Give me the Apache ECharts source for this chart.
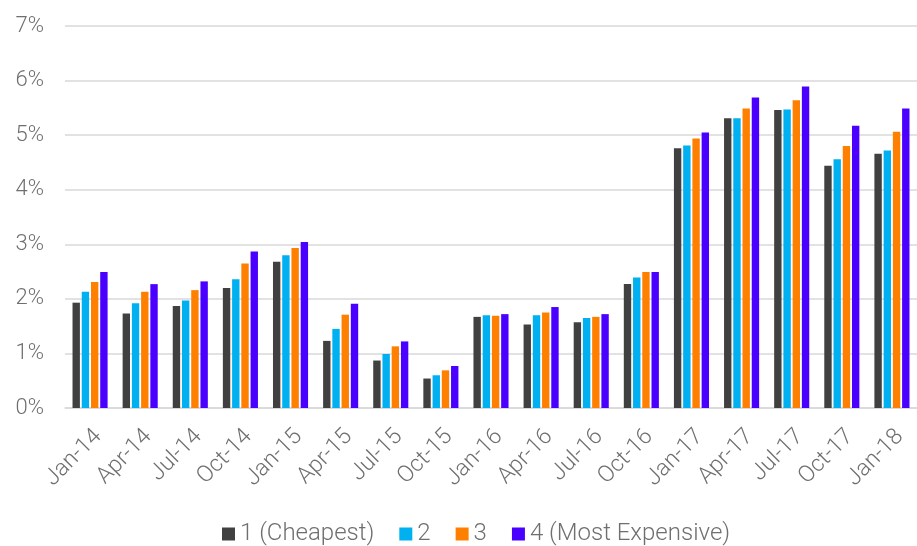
<!DOCTYPE html>
<html>
<head>
  <meta charset="UTF-8">
  <script src="https://cdn.jsdelivr.net/npm/echarts@6/dist/echarts.min.js"></script>
  <style>
    html, body { margin: 0; padding: 0; background: #fff; }
    #mychart { width: 917px; height: 546px; }
  </style>
</head>
<body>
  <div id="mychart"></div>
  <script type="text/javascript">
    // 季度 categories
    var quarters = ['Jan-14', 'Apr-14', 'Jul-14', 'Oct-14', 'Jan-15', 'Apr-15', 'Jul-15', 'Oct-15',
                    'Jan-16', 'Apr-16', 'Jul-16', 'Oct-16', 'Jan-17', 'Apr-17', 'Jul-17', 'Oct-17', 'Jan-18'];

    // values in %
    var cheapest = [1.93, 1.73, 1.87, 2.20, 2.68, 1.23, 0.87, 0.54, 1.67, 1.53, 1.57, 2.27, 4.76, 5.31, 5.46, 4.44, 4.66];
    var q2       = [2.13, 1.92, 1.97, 2.36, 2.80, 1.45, 0.99, 0.60, 1.70, 1.70, 1.65, 2.39, 4.81, 5.31, 5.47, 4.56, 4.72];
    var q3       = [2.31, 2.13, 2.16, 2.65, 2.93, 1.71, 1.13, 0.69, 1.69, 1.75, 1.67, 2.49, 4.94, 5.49, 5.64, 4.80, 5.06];
    var mostExp  = [2.49, 2.27, 2.32, 2.87, 3.04, 1.91, 1.22, 0.77, 1.72, 1.85, 1.72, 2.49, 5.05, 5.69, 5.89, 5.17, 5.49];

    var seriesNames = ['1 (Cheapest)', '2', '3', '4 (Most Expensive)'];
    var colors = ['#404040', '#00B0F0', '#FF8000', '#4A00FF'];

    var font = 'Roboto, "Noto Sans", sans-serif';
    var grey = '#6f6f6f';

    var myChart = echarts.init(document.getElementById('mychart'));

    function bar(name, data, i) {
      return {
        name: name,
        type: 'bar',
        data: data,
        barGap: '25%',
        barCategoryGap: '30%',
        itemStyle: { color: colors[i] }
      };
    }

    myChart.setOption({
      animation: false,
      color: colors,
      grid: { left: 65, top: 26, bottom: 138, right: -6, containLabel: false },
      legend: {
        data: seriesNames,
        top: 522,
        left: 222,
        padding: 0,
        itemWidth: 13,
        itemHeight: 13,
        itemGap: 25,
        icon: 'rect',
        textStyle: { color: grey, fontSize: 24, fontFamily: font, fontWeight: 300 }
      },
      xAxis: {
        type: 'category',
        data: quarters,
        axisLine: { lineStyle: { color: '#d9d9d9', width: 1.5 } },
        axisTick: { length: 8, lineStyle: { color: '#d9d9d9', width: 1.5 } },
        axisLabel: {
          rotate: 45,
          interval: 0,
          margin: 17,
          verticalAlign: 'top',
          color: grey,
          fontSize: 23,
          fontFamily: font,
          fontWeight: 300
        }
      },
      yAxis: {
        type: 'value',
        min: 0,
        max: 7,
        interval: 1,
        axisLine: { show: false },
        axisTick: { show: false },
        splitLine: { lineStyle: { color: '#d9d9d9', width: 1.5 } },
        axisLabel: {
          formatter: '{value}%',
          margin: 21,
          color: grey,
          fontSize: 22,
          fontFamily: font,
          fontWeight: 300
        }
      },
      series: [
        bar(seriesNames[0], cheapest, 0),
        bar(seriesNames[1], q2, 1),
        bar(seriesNames[2], q3, 2),
        bar(seriesNames[3], mostExp, 3)
      ]
    });
  </script>
</body>
</html>
